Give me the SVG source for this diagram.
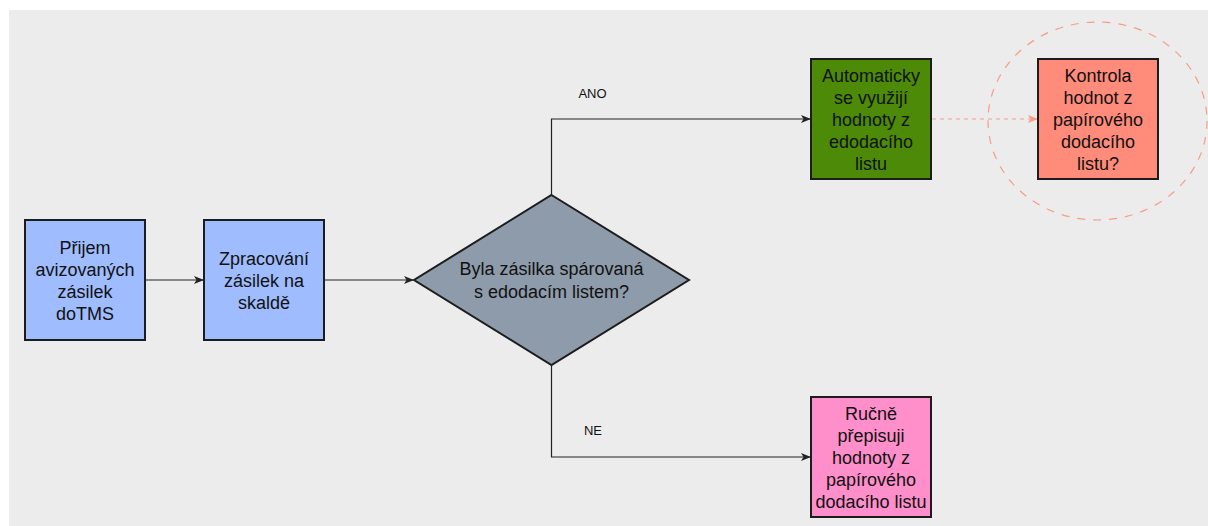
<svg xmlns="http://www.w3.org/2000/svg" width="1208" height="526" viewBox="0 0 1208 526">
<style>
.t{font-family:"Liberation Sans",Arial,Helvetica,sans-serif;font-size:18px;fill:#111;text-anchor:middle}
.lbl{font-family:"Liberation Sans",Arial,Helvetica,sans-serif;font-size:13px;fill:#111;text-anchor:middle}
.box{stroke:#1c1c1c;stroke-width:2}
.edge{fill:none;stroke:#222;stroke-width:1.2}
</style>
<defs>
<marker id="ah" viewBox="0 0 10 10" refX="9" refY="5" markerWidth="10" markerHeight="10" markerUnits="userSpaceOnUse" orient="auto">
<path d="M0,1 L10,5 L0,9 L2.5,5 Z" fill="#222"/>
</marker>
<marker id="ahs" viewBox="0 0 10 10" refX="9" refY="5" markerWidth="10" markerHeight="10" markerUnits="userSpaceOnUse" orient="auto">
<path d="M0,1 L10,5 L0,9 L2.5,5 Z" fill="#f99c85"/>
</marker>
</defs>
<rect x="0" y="0" width="1208" height="526" fill="#ffffff"/>
<rect x="9" y="10" width="1199" height="516" fill="#ececec"/>
<g id="connectors">
<line class="edge" x1="146" y1="280" x2="203" y2="280" marker-end="url(#ah)"/>
<line class="edge" x1="325" y1="280" x2="413" y2="280" marker-end="url(#ah)"/>
<polyline class="edge" points="551.5,195 551.5,119 810,119" marker-end="url(#ah)"/>
<polyline class="edge" points="551.5,365 551.5,457 810,457" marker-end="url(#ah)"/>
<line x1="932" y1="119" x2="1037" y2="119" stroke="#f99c85" stroke-width="1.2" stroke-dasharray="4,4" marker-end="url(#ahs)"/>
<text class="lbl" x="592.5" y="97.5">ANO</text>
<text class="lbl" x="593" y="434.5">NE</text>
</g>
<g id="circle">
<ellipse cx="1097.5" cy="121" rx="109.5" ry="99" fill="none" stroke="#f99c85" stroke-width="1.2" stroke-dasharray="8,8"/>
</g>
<g id="n1">
<rect class="box" x="25" y="220" width="120" height="120" fill="#9fbcfe"/>
<text class="t"><tspan x="85" y="253.5">Přijem</tspan><tspan x="85" y="275.5">avizovaných</tspan><tspan x="85" y="297.5">zásilek</tspan><tspan x="85" y="319.5">doTMS</tspan></text>
</g>
<g id="n2">
<rect class="box" x="204" y="220" width="120" height="120" fill="#9fbcfe"/>
<text class="t"><tspan x="264" y="264.5">Zpracování</tspan><tspan x="264" y="286.5">zásilek na</tspan><tspan x="264" y="308.5">skaldě</tspan></text>
</g>
<g id="n3">
<polygon class="box" points="551.5,195 689,280 551.5,365 414,280" fill="#8e9bab"/>
<text class="t"><tspan x="551.5" y="275">Byla zásilka spárovaná</tspan><tspan x="551.5" y="298">s edodacím listem?</tspan></text>
</g>
<g id="n4">
<rect class="box" x="811" y="59" width="120" height="120" fill="#4d8a08"/>
<text class="t"><tspan x="871" y="81.5">Automaticky</tspan><tspan x="871" y="103.5">se využijí</tspan><tspan x="871" y="125.5">hodnoty z</tspan><tspan x="871" y="147.5">edodacího</tspan><tspan x="871" y="169.5">listu</tspan></text>
</g>
<g id="n5">
<rect class="box" x="1038" y="59" width="120" height="120" fill="#ff8c7a"/>
<text class="t"><tspan x="1098" y="81.5">Kontrola</tspan><tspan x="1098" y="103.5">hodnot z</tspan><tspan x="1098" y="125.5">papírového</tspan><tspan x="1098" y="147.5">dodacího</tspan><tspan x="1098" y="169.5">listu?</tspan></text>
</g>
<g id="n6">
<rect class="box" x="811" y="397" width="120" height="120" fill="#ff8fcb"/>
<text class="t"><tspan x="871" y="419.5">Ručně</tspan><tspan x="871" y="441.5">přepisuji</tspan><tspan x="871" y="463.5">hodnoty z</tspan><tspan x="871" y="485.5">papírového</tspan><tspan x="871" y="507.5">dodacího listu</tspan></text>
</g>
</svg>
